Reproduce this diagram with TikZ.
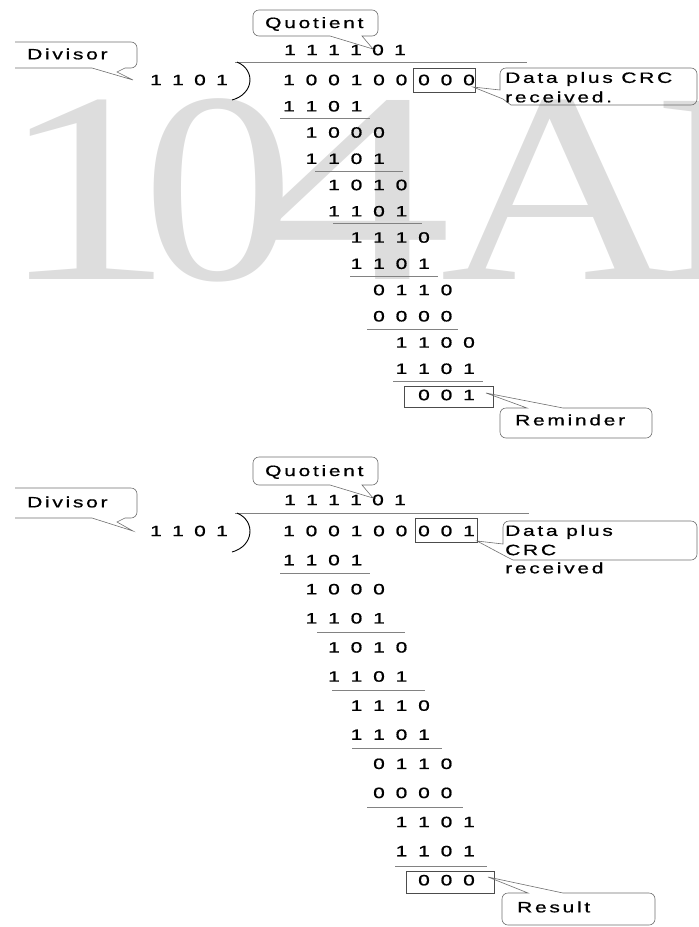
\documentclass[tikz,border=0pt]{standalone}
\usepackage{graphicx}
\usepackage{fontspec}
\setmainfont{Liberation Sans}
\newfontfamily\lblfont[FakeStretch=1.4,LetterSpace=18,FakeBold=0.8]{Liberation Sans}
\newfontfamily\wmfont{Liberation Serif}
\definecolor{wm}{RGB}{221,221,221}
\definecolor{barc}{RGB}{130,130,130}
\definecolor{callc}{RGB}{110,110,110}
\newcommand\drow[4]{%
  \foreach \d [count=\i from #3] in {#4} {
    \node[dig] (#1c\i) at ({289+22.5*\i},#2) {\d};
  }}
\begin{document}
\begin{tikzpicture}[x=1pt,y=-1pt,
  dig/.style={inner sep=0pt, font=\lblfont\fontsize{15}{18}\selectfont},
  lbl/.style={inner sep=0pt, anchor=west, font=\lblfont\fontsize{15}{18}\selectfont},
  wmark/.style={inner sep=0pt, anchor=base, text=wm, font=\wmfont\fontsize{272}{272}\selectfont},
  bar/.style={draw=barc, line width=0.9pt},
  callout/.style={draw=callc, line width=0.6pt},
  digbox/.style={draw=black!70, line width=0.6pt},
  brk/.style={draw=black, line width=0.9pt}]
\useasboundingbox (0,0) rectangle (699,927);
% watermark
\begin{scope}
\clip (0,0) rectangle (699,927);
\node[wmark] (w1) at (87,279) {\scalebox{1.3}[1]{1}};
\node[wmark] (w2) at (219,279) {\scalebox{1.12}[1]{0}};
\node[wmark] (w3) at (350,279) {\scalebox{1.5}[1]{4}};
\node[wmark] (w4) at (560,279) {\scalebox{1.22}[1]{A}};
\node[wmark] (w5) at (765,279) {\scalebox{1.22}[1]{B}};
\end{scope}

% ================= TOP =================
% quotient
\foreach \d [count=\i from 0] in {1,1,1,1,0,1} {
  \node[dig] (Aq\i) at ({290+22*\i},50) {\d};
}
% divisor
\foreach \d [count=\i from 0] in {1,1,0,1} {
  \node[dig] (Av\i) at ({156+22*\i},80) {\d};
}
\draw[bar] (235,62) -- (527,62);
\draw[brk] (237,62) .. controls (256,70) and (254,94) .. (232,100);
\drow{Ar0}{80}{0}{1,0,0,1,0,0,0,0,0}
\drow{Ar1}{106.25}{0}{1,1,0,1}
\drow{Ar2}{132.5}{1}{1,0,0,0}
\drow{Ar3}{158.75}{1}{1,1,0,1}
\drow{Ar4}{185}{2}{1,0,1,0}
\drow{Ar5}{211.25}{2}{1,1,0,1}
\drow{Ar6}{237.5}{3}{1,1,1,0}
\drow{Ar7}{263.75}{3}{1,1,0,1}
\drow{Ar8}{290}{4}{0,1,1,0}
\drow{Ar9}{316.25}{4}{0,0,0,0}
\drow{Ar10}{342.5}{5}{1,1,0,0}
\drow{Ar11}{368.75}{5}{1,1,0,1}
\drow{Ar12}{395}{6}{0,0,1}
\draw[bar] (280,118) -- (370,118);
\draw[bar] (315,171) -- (403,171);
\draw[bar] (333,223) -- (422,223);
\draw[bar] (350,276) -- (438,276);
\draw[bar] (367,329) -- (458,329);
\draw[bar] (393,381) -- (483,381);
\node[digbox, inner sep=0pt, minimum width=62pt, minimum height=24pt] (Abox1) at (444,80) {};
\node[digbox, inner sep=0pt, minimum width=89pt, minimum height=21pt] (Abox2) at (448.5,396.5) {};

% callouts top
\draw[callout] (15,42) -- (131,42) arc[start angle=270,end angle=360,radius=6] -- (137,62) arc[start angle=0,end angle=90,radius=6] -- (125,68) -- (117,72) -- (133,80) -- (92,68) -- (15,68);
\node[lbl] (Adiv) at (27,54) {Divisor};
\draw[callout] (330,36) -- (259,36) arc[start angle=90,end angle=180,radius=6] -- (253,16) arc[start angle=180,end angle=270,radius=6] -- (372,10) arc[start angle=270,end angle=360,radius=6] -- (378,30) arc[start angle=0,end angle=90,radius=6] -- (362,36) -- (373,49) -- cycle;
\node[lbl] (Aquo) at (265,24) {Quotient};
\draw[callout] (500,90) -- (500,74) arc[start angle=180,end angle=270,radius=6] -- (691,68) arc[start angle=270,end angle=360,radius=6] -- (697,99) arc[start angle=0,end angle=90,radius=6] -- (511,105) -- (503,99) -- (473,87) -- cycle;
\node[lbl] (Adata1) at (505,79) {Data plus CRC};
\node[lbl] (Adata2) at (505,97) {received.};
\draw[callout] (527,408) -- (506,408) arc[start angle=270,end angle=180,radius=6] -- (500,432) arc[start angle=180,end angle=90,radius=6] -- (646,438) arc[start angle=90,end angle=0,radius=6] -- (652,414) arc[start angle=0,end angle=-90,radius=6] -- (563,408) -- (486,393) -- cycle;
\node[lbl] (Arem) at (515,420) {Reminder};

% ================= BOTTOM =================
\foreach \d [count=\i from 0] in {1,1,1,1,0,1} {
  \node[dig] (Bq\i) at ({290+22*\i},500) {\d};
}
\foreach \d [count=\i from 0] in {1,1,0,1} {
  \node[dig] (Bv\i) at ({156+22*\i},531) {\d};
}
\draw[bar] (235,513) -- (529,513);
\draw[brk] (237,513) .. controls (256,521) and (254,546) .. (232,552);
\drow{Br0}{531}{0}{1,0,0,1,0,0,0,0,1}
\drow{Br1}{560.1}{0}{1,1,0,1}
\drow{Br2}{589.2}{1}{1,0,0,0}
\drow{Br3}{618.3}{1}{1,1,0,1}
\drow{Br4}{647.4}{2}{1,0,1,0}
\drow{Br5}{676.5}{2}{1,1,0,1}
\drow{Br6}{705.6}{3}{1,1,1,0}
\drow{Br7}{734.7}{3}{1,1,0,1}
\drow{Br8}{763.8}{4}{0,1,1,0}
\drow{Br9}{792.9}{4}{0,0,0,0}
\drow{Br10}{822}{5}{1,1,0,1}
\drow{Br11}{851.1}{5}{1,1,0,1}
\drow{Br12}{880.2}{6}{0,0,0}
\draw[bar] (280,573) -- (370,573);
\draw[bar] (317,632) -- (405,632);
\draw[bar] (332,690) -- (425,690);
\draw[bar] (352,748) -- (442,748);
\draw[bar] (367,807) -- (463,807);
\draw[bar] (395,866) -- (487,866);
\node[digbox, inner sep=0pt, minimum width=62pt, minimum height=24pt] (Bbox1) at (446,530) {};
\node[digbox, inner sep=0pt, minimum width=88pt, minimum height=22pt] (Bbox2) at (450,882) {};

% callouts bottom
\draw[callout] (15,488) -- (131,488) arc[start angle=270,end angle=360,radius=6] -- (137,512) arc[start angle=0,end angle=90,radius=6] -- (125,518) -- (117,522) -- (133,531) -- (92,518) -- (15,518);
\node[lbl] (Bdiv) at (27,502) {Divisor};
\draw[callout] (330,485) -- (259,485) arc[start angle=90,end angle=180,radius=6] -- (253,463) arc[start angle=180,end angle=270,radius=6] -- (372,457) arc[start angle=270,end angle=360,radius=6] -- (378,479) arc[start angle=0,end angle=90,radius=6] -- (362,485) -- (373,498) -- cycle;
\node[lbl] (Bquo) at (265,472) {Quotient};
\draw[callout] (503,544) -- (503,527) arc[start angle=180,end angle=270,radius=6] -- (691,521) arc[start angle=270,end angle=360,radius=6] -- (697,554) arc[start angle=0,end angle=90,radius=6] -- (513,560) -- (507,557) -- (477,541) -- cycle;
\node[lbl] (Bdata1) at (505,532) {Data plus};
\node[lbl] (Bdata2) at (505,550) {CRC};
\node[lbl] (Bdata3) at (505,568) {received};
\draw[callout] (528,893) -- (508,893) arc[start angle=270,end angle=180,radius=6] -- (502,919) arc[start angle=180,end angle=90,radius=6] -- (649,925) arc[start angle=90,end angle=0,radius=6] -- (655,899) arc[start angle=0,end angle=-90,radius=6] -- (563,893) -- (488,877) -- cycle;
\node[lbl] (Bres) at (517,907) {Result};
\end{tikzpicture}
\end{document}
